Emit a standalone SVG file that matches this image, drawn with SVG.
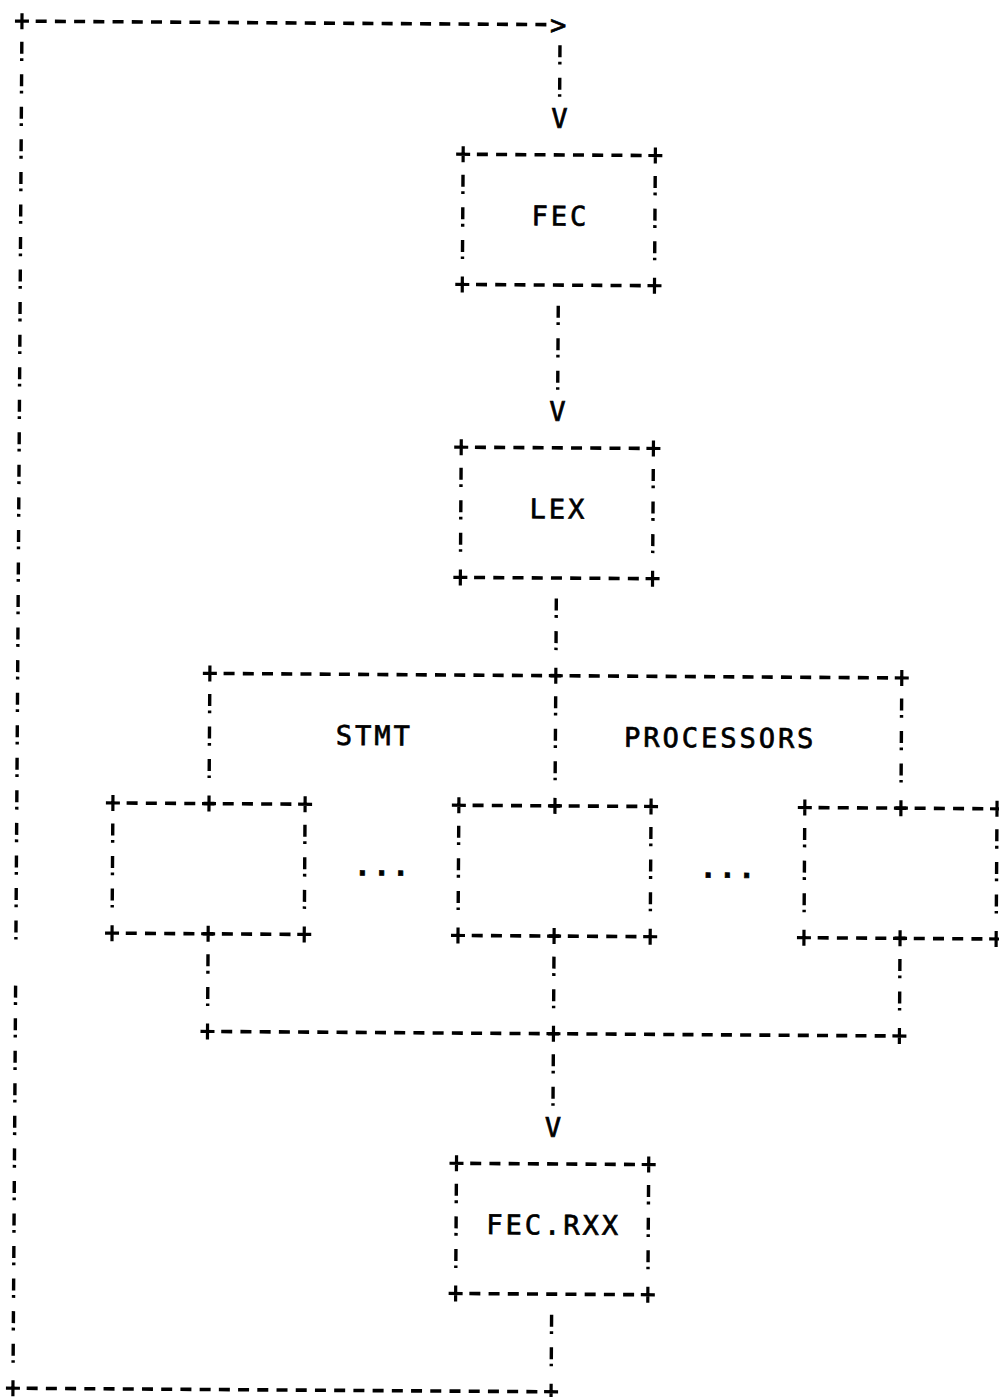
<svg xmlns="http://www.w3.org/2000/svg" xmlns:xlink="http://www.w3.org/1999/xlink" width="999" height="1397" viewBox="0 0 999 1397">
<style>
.h{stroke:#000;stroke-width:3.6;stroke-dasharray:11 8.22;fill:none}
.v{stroke:#000;stroke-width:3.4;stroke-dasharray:12 4.5 2.8 13.25;fill:none}
.p{stroke:#000;stroke-width:3.2;fill:none}
text{font-family:"DejaVu Sans Mono","Liberation Mono",monospace;font-size:27px;letter-spacing:2.97px;fill:#000;stroke:#000;stroke-width:0.7px}
.dots{font-weight:bold}
</style>
<defs>
<path id="p" class="p" d="M-7,0H7M0,-8V8"/>
</defs>
<rect width="999" height="1397" fill="#fff"/>
<g transform="rotate(0.378)">
<g id="connectors">
<line class="h" x1="35.82" y1="21" x2="546.54" y2="21"/>
<use href="#p" x="22.1" y="21"/>
<text x="550.13" y="30.5">&gt;</text>
<line class="v" x1="22.1" y1="41.55" x2="22.1" y2="939.4"/>
<line class="v" x1="22.1" y1="985.5" x2="22.1" y2="1362.55"/>
<line class="h" x1="35.82" y1="1388.1" x2="546.54" y2="1388.1"/>
<use href="#p" x="22.1" y="1388.1"/>
<use href="#p" x="560.26" y="1388.1"/>
<line class="v" x1="560.26" y1="41.55" x2="560.26" y2="93.1"/>
<text x="552.13" y="124.15">V</text>
<line class="v" x1="560.26" y1="301.95" x2="560.26" y2="386.05"/>
<text x="552.13" y="417.1">V</text>
<line class="v" x1="560.26" y1="594.9" x2="560.26" y2="646.45"/>
<line class="v" x1="560.26" y1="1050.6" x2="560.26" y2="1102.15"/>
<text x="552.13" y="1133.2">V</text>
<line class="v" x1="560.26" y1="1311" x2="560.26" y2="1362.55"/>
</g>
<g id="fec">
<line class="h" x1="477.88" y1="151.2" x2="642.64" y2="151.2"/>
<line class="h" x1="477.88" y1="281.4" x2="642.64" y2="281.4"/>
<line class="v" x1="464.16" y1="171.75" x2="464.16" y2="255.85"/>
<line class="v" x1="656.36" y1="171.75" x2="656.36" y2="255.85"/>
<use href="#p" x="464.16" y="151.2"/>
<use href="#p" x="656.36" y="151.2"/>
<use href="#p" x="464.16" y="281.4"/>
<use href="#p" x="656.36" y="281.4"/>
<text x="532.91" y="221.8">FEC</text>
</g>
<g id="lex">
<line class="h" x1="477.88" y1="444.15" x2="642.64" y2="444.15"/>
<line class="h" x1="477.88" y1="574.35" x2="642.64" y2="574.35"/>
<line class="v" x1="464.16" y1="464.7" x2="464.16" y2="548.8"/>
<line class="v" x1="656.36" y1="464.7" x2="656.36" y2="548.8"/>
<use href="#p" x="464.16" y="444.15"/>
<use href="#p" x="656.36" y="444.15"/>
<use href="#p" x="464.16" y="574.35"/>
<use href="#p" x="656.36" y="574.35"/>
<text x="532.91" y="514.75">LEX</text>
</g>
<g id="stmt-processors">
<line class="h" x1="228.02" y1="672" x2="892.5" y2="672"/>
<use href="#p" x="214.3" y="672"/>
<use href="#p" x="560.26" y="672"/>
<use href="#p" x="906.22" y="672"/>
<line class="v" x1="214.3" y1="692.55" x2="214.3" y2="776.65"/>
<line class="v" x1="560.26" y1="692.55" x2="560.26" y2="776.65"/>
<line class="v" x1="906.22" y1="692.55" x2="906.22" y2="776.65"/>
<text x="340.71" y="742.6">STMT</text>
<text x="629.01" y="742.6">PROCESSORS</text>
<line class="v" x1="214.3" y1="952.95" x2="214.3" y2="1004.5"/>
<line class="v" x1="560.26" y1="952.95" x2="560.26" y2="1004.5"/>
<line class="v" x1="906.22" y1="952.95" x2="906.22" y2="1004.5"/>
<line class="h" x1="228.02" y1="1030.05" x2="892.5" y2="1030.05"/>
<use href="#p" x="214.3" y="1030.05"/>
<use href="#p" x="560.26" y="1030.05"/>
<use href="#p" x="906.22" y="1030.05"/>
<text class="dots" x="359.93" y="872.8">...</text>
<text class="dots" x="705.89" y="872.8">...</text>
</g>
<g id="proc1">
<line class="h" x1="131.92" y1="802.2" x2="296.68" y2="802.2"/>
<line class="h" x1="131.92" y1="932.4" x2="296.68" y2="932.4"/>
<line class="v" x1="118.2" y1="822.75" x2="118.2" y2="906.85"/>
<line class="v" x1="310.4" y1="822.75" x2="310.4" y2="906.85"/>
<use href="#p" x="118.2" y="802.2"/>
<use href="#p" x="214.3" y="802.2"/>
<use href="#p" x="310.4" y="802.2"/>
<use href="#p" x="118.2" y="932.4"/>
<use href="#p" x="214.3" y="932.4"/>
<use href="#p" x="310.4" y="932.4"/>
</g>
<g id="proc2">
<line class="h" x1="477.88" y1="802.2" x2="642.64" y2="802.2"/>
<line class="h" x1="477.88" y1="932.4" x2="642.64" y2="932.4"/>
<line class="v" x1="464.16" y1="822.75" x2="464.16" y2="906.85"/>
<line class="v" x1="656.36" y1="822.75" x2="656.36" y2="906.85"/>
<use href="#p" x="464.16" y="802.2"/>
<use href="#p" x="560.26" y="802.2"/>
<use href="#p" x="656.36" y="802.2"/>
<use href="#p" x="464.16" y="932.4"/>
<use href="#p" x="560.26" y="932.4"/>
<use href="#p" x="656.36" y="932.4"/>
</g>
<g id="proc3">
<line class="h" x1="823.84" y1="802.2" x2="988.6" y2="802.2"/>
<line class="h" x1="823.84" y1="932.4" x2="988.6" y2="932.4"/>
<line class="v" x1="810.12" y1="822.75" x2="810.12" y2="906.85"/>
<line class="v" x1="1002.32" y1="822.75" x2="1002.32" y2="906.85"/>
<use href="#p" x="810.12" y="802.2"/>
<use href="#p" x="906.22" y="802.2"/>
<use href="#p" x="1002.32" y="802.2"/>
<use href="#p" x="810.12" y="932.4"/>
<use href="#p" x="906.22" y="932.4"/>
<use href="#p" x="1002.32" y="932.4"/>
</g>
<g id="fec-rxx">
<line class="h" x1="477.88" y1="1160.25" x2="642.64" y2="1160.25"/>
<line class="h" x1="477.88" y1="1290.45" x2="642.64" y2="1290.45"/>
<line class="v" x1="464.16" y1="1180.8" x2="464.16" y2="1264.9"/>
<line class="v" x1="656.36" y1="1180.8" x2="656.36" y2="1264.9"/>
<use href="#p" x="464.16" y="1160.25"/>
<use href="#p" x="656.36" y="1160.25"/>
<use href="#p" x="464.16" y="1290.45"/>
<use href="#p" x="656.36" y="1290.45"/>
<text x="494.47" y="1230.85">FEC.RXX</text>
</g>
</g>
</svg>
